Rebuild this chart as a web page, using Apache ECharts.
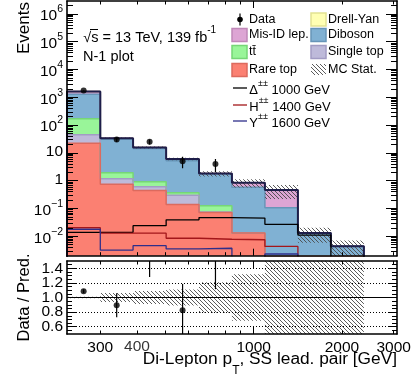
<!DOCTYPE html>
<html>
<head>
<meta charset="utf-8">
<script src="https://cdn.jsdelivr.net/npm/echarts@6/dist/echarts.min.js"></script>
<style>
  html, body { margin: 0; padding: 0; background: #fff; }
  #chart { width: 419px; height: 382px; }
</style>
</head>
<body>
<div id="chart"></div>
<script>
// Bin edges of the leading same-sign pair pT [GeV]; the last bin is empty
const binEdges = [231, 300, 388, 503, 651, 843, 1092, 1415, 1833, 2375, 3080];

// Background predictions per bin (stacked bottom to top)
const rareTop   = [22, 0.75, 0.44, 0.14, 0.072, 0.013, 0.001, 0.001, 0.001];
const singleTop = [23, 0.43, 0.17, 0.16, 0.003, 0, 0, 0, 0];
const ttbar     = [125, 0.76, 0.31, 0.07, 0.05, 0, 0, 0, 0];
const diboson   = [1110, 28.9, 13.5, 4.8, 1.6, 0.57, 0.106, 0.012, 0.0034];
const misId     = [340, 2.7, 1.2, 0.9, 0.07, 0.26, 0.353, 0, 0];
const drellYan  = [0, 0, 0, 0, 0, 0, 0, 0, 0];

// Relative MC statistical uncertainty per bin
const mcStatRel = [0.01, 0.06, 0.09, 0.11, 0.21, 0.32, 0.52, 0.55, 0.6];

// Observed events and their uncertainties
const dataCounts = [1760, 30, 25, 5, 4, 0, 0, 0, 0];
const dataErrors = [42, 5.5, 5, 2.2, 2, 0, 0, 0, 0];

// Signal benchmarks
const deltaPP = [0.0139, 0.0139, 0.024, 0.039, 0.047, 0.045, 0.027, 0.011, 0];
const hPP     = [0.0204, 0.013, 0.0129, 0.0085, 0.0078, 0.0075, 0.0043, 0, 0];
const yPP     = [0.0179, 0.0032, 0.0046, 0.0035, 0.0037, 0.0015, 0.0023, 0, 0];

// Axis labels
const xTickLabelsA = [300, 1000, 3000];
const xTickLabelsB = [2000];
const xTickLabelsC = [400];
const yDecades = [0.01, 0.1, 1, 10, 100, 1000, 1e4, 1e5, 1e6];
const ratioTicks = [0.6, 0.8, 1.0, 1.2, 1.4];
const ratioLabelsA = [0.6, 1.0, 1.4];
const ratioLabelsB = [0.8, 1.2];

const FONT = '"Liberation Sans", Arial, Helvetica, sans-serif';
const Y_MIN = 0.002, Y_MAX = 2.9e6;
const X_MIN = binEdges[0], X_MAX = binEdges[binEdges.length - 1];
const R_MIN = 0.5, R_MAX = 1.5;
const FLOOR = 1e-4; // below the visible range of the log axis
const nBins = dataCounts.length;

const layers = [
  { name: 'Rare top',    vals: rareTop,   fill: '#FB8072', edge: '#DC6A5E' },
  { name: 'Single top',  vals: singleTop, fill: '#BEBADA', edge: '#A29CC4' },
  { name: 'tt\u0304',    vals: ttbar,     fill: '#99F599', edge: '#76D676' },
  { name: 'Diboson',     vals: diboson,   fill: '#80B1D3', edge: '#6795B8' },
  { name: 'Mis-ID lep.', vals: misId,     fill: '#DDA5D4', edge: '#C088B8' },
  { name: 'Drell-Yan',   vals: drellYan,  fill: '#FFFFB3', edge: '#E2E292' }
];

// cumulative stack tops
let running = new Array(nBins).fill(0);
const cumTops = layers.map(l => {
  running = running.map((r, i) => r + l.vals[i]);
  return running.slice();
});
const total = cumTops[cumTops.length - 1];

function stepPoints(vals) {
  const pts = [[binEdges[0], FLOOR]];
  vals.forEach((v, i) => {
    const y = v > 0 ? v : FLOOR;
    pts.push([binEdges[i], y], [binEdges[i + 1], y]);
  });
  pts.push([binEdges[vals.length], FLOOR]);
  return pts;
}
const binCenter = i => Math.sqrt(binEdges[i] * binEdges[i + 1]);

// hatch used for the MC statistical band
function makeHatch() {
  const c = document.createElement('canvas');
  c.width = 4; c.height = 4;
  const g = c.getContext('2d');
  g.strokeStyle = '#4a4a4a';
  g.lineWidth = 0.9;
  g.beginPath();
  g.moveTo(0, 0); g.lineTo(4, 4);
  g.moveTo(-2, 2); g.lineTo(2, 6);
  g.moveTo(2, -2); g.lineTo(6, 2);
  g.stroke();
  return c;
}
const hatch = { image: makeHatch(), repeat: 'repeat' };

// ---- axes -------------------------------------------------------------
function minorLogValues(lo, hi) {
  const out = [];
  for (let k = -4; k <= 7; k++) {
    for (let m = 2; m <= 9; m++) {
      const v = m * Math.pow(10, k);
      if (v > lo && v < hi) out.push(v);
    }
  }
  return out;
}
const xMinor = [300, 400, 500, 600, 700, 800, 900, 2000, 3000];
const xMajor = [1000];
const yMinor = minorLogValues(Y_MIN, Y_MAX);
const rMinor = [];
for (let r = 0.55; r < 1.5; r += 0.05) {
  const v = Math.round(r * 100) / 100;
  if (ratioTicks.indexOf(v) < 0) rMinor.push(v);
}

function axisBase(grid, pos, kind, len, ticks, withLine) {
  const a = {
    gridIndex: grid, position: pos, z: 10,
    axisLine: { show: !!withLine, onZero: false, lineStyle: { color: '#000', width: 1.6 } },
    axisTick: { show: len > 0, inside: true, length: len, customValues: ticks, lineStyle: { color: '#000', width: 1 } },
    axisLabel: { show: false },
    splitLine: { show: false },
    minorTick: { show: false },
    minorSplitLine: { show: false }
  };
  if (kind === 'x') { a.type = 'log'; a.logBase = 10; a.min = X_MIN; a.max = X_MAX; }
  else if (kind === 'y') { a.type = 'log'; a.logBase = 10; a.min = Y_MIN; a.max = Y_MAX; }
  else { a.type = 'value'; a.min = R_MIN; a.max = R_MAX; }
  return a;
}
const labelStyle = { color: '#000', fontFamily: FONT, fontSize: 15.5, hideOverlap: false, showMinLabel: true, showMaxLabel: true };
const xLabel = vals => Object.assign({ show: true, customValues: vals, margin: 6, formatter: v => String(Math.round(v)) }, labelStyle);

const xAxes = [
  axisBase(0, 'bottom', 'x', 7, xMajor, true),   // 0
  axisBase(0, 'bottom', 'x', 3.5, xMinor),        // 1
  axisBase(0, 'top', 'x', 7, xMajor, true),       // 2
  axisBase(0, 'top', 'x', 3.5, xMinor),           // 3
  axisBase(1, 'bottom', 'x', 7, xMajor, true),    // 4
  axisBase(1, 'bottom', 'x', 3.5, xMinor),        // 5
  axisBase(1, 'top', 'x', 7, xMajor, true),       // 6
  axisBase(1, 'top', 'x', 3.5, xMinor)            // 7
];
xAxes[4].axisLabel = xLabel(xTickLabelsA);
xAxes[5].axisLabel = xLabel(xTickLabelsB);

const yAxes = [
  axisBase(0, 'left', 'y', 11, yDecades, true),   // 0
  axisBase(0, 'left', 'y', 6, yMinor),            // 1
  axisBase(0, 'right', 'y', 11, yDecades, true),  // 2
  axisBase(0, 'right', 'y', 6, yMinor),           // 3
  axisBase(1, 'left', 'r', 9, ratioTicks, true),  // 4
  axisBase(1, 'left', 'r', 5, rMinor),            // 5
  axisBase(1, 'right', 'r', 9, ratioTicks, true), // 6
  axisBase(1, 'right', 'r', 5, rMinor)            // 7
];
yAxes[0].axisLabel = Object.assign({
  show: true, customValues: yDecades, margin: 4,
  formatter: v => {
    const k = Math.round(Math.log10(v));
    if (k === 0) return '{b|1}';
    if (k === 1) return '{b|10}';
    return '{h| }{b|10}{s|' + (k < 0 ? '\u2212' + (-k) : k) + '}';
  },
  rich: {
    h: { fontSize: 1, lineHeight: 20 },
    b: { fontSize: 15.5, fontFamily: FONT, color: '#000', lineHeight: 14, verticalAlign: 'bottom' },
    s: { fontSize: 10.5, fontFamily: FONT, color: '#000', lineHeight: 14, verticalAlign: 'top' }
  }
}, labelStyle);
yAxes[4].axisLabel = Object.assign({ show: true, customValues: ratioLabelsA, margin: 4, formatter: v => v.toFixed(1) }, labelStyle);
yAxes[5].axisLabel = Object.assign({ show: true, customValues: ratioLabelsB, margin: 4, formatter: v => v.toFixed(1) }, labelStyle);

// ---- series -----------------------------------------------------------
const series = [];

// stacked backgrounds, painted from the full stack down to the lowest layer
for (let k = layers.length - 1; k >= 0; k--) {
  series.push({
    name: layers[k].name, type: 'line', xAxisIndex: 0, yAxisIndex: 0,
    data: stepPoints(cumTops[k]), symbol: 'none', clip: true, z: 2,
    lineStyle: { color: layers[k].edge, width: 1.5 },
    areaStyle: { color: layers[k].fill, opacity: 1, origin: 'start' },
    silent: true, animation: false
  });
}

function bandRender(params, api) {
  const a = api.coord([api.value(0), api.value(3)]);
  const b = api.coord([api.value(1), api.value(2)]);
  const cs = params.coordSys;
  const rect = echarts.graphic.clipRectByRect(
    { x: a[0], y: a[1], width: b[0] - a[0], height: b[1] - a[1] },
    { x: cs.x, y: cs.y, width: cs.width, height: cs.height }
  );
  return rect && { type: 'rect', shape: rect, style: { fill: hatch, stroke: null } };
}

// MC statistical uncertainty on the total prediction
series.push({
  name: 'MC Stat.', type: 'custom', xAxisIndex: 0, yAxisIndex: 0, z: 3,
  renderItem: bandRender, silent: true, animation: false,
  data: total.map((t, i) => [binEdges[i], binEdges[i + 1], t * (1 - mcStatRel[i]), t * (1 + mcStatRel[i])])
});

// total prediction outline
series.push({
  name: 'Total', type: 'line', xAxisIndex: 0, yAxisIndex: 0, z: 4,
  data: stepPoints(total), symbol: 'none', clip: true, silent: true, animation: false,
  lineStyle: { color: '#1E1E4A', width: 2 }
});

// signals
[[deltaPP, '#000000', 'Δ'], [hPP, '#A3161A', 'H'], [yPP, '#2E2E8A', 'Y']].forEach(s => {
  series.push({
    name: s[2], type: 'line', xAxisIndex: 0, yAxisIndex: 0, z: 5,
    data: stepPoints(s[0]), symbol: 'none', clip: true, silent: true, animation: false,
    lineStyle: { color: s[1], width: 1.3 }
  });
});

function errRender(params, api) {
  const x = api.value(0);
  const p1 = api.coord([x, api.value(1)]);
  const p2 = api.coord([x, api.value(2)]);
  return { type: 'line', shape: { x1: p1[0], y1: p1[1], x2: p2[0], y2: p2[1] },
           style: { stroke: '#000', lineWidth: 1.2 } };
}

const seen = dataCounts.map((d, i) => i).filter(i => dataCounts[i] > 0);

// data with uncertainties
series.push({
  name: 'Data err', type: 'custom', xAxisIndex: 0, yAxisIndex: 0, z: 6, clip: true,
  renderItem: errRender, silent: true, animation: false,
  data: seen.map(i => [binCenter(i), Math.max(dataCounts[i] - dataErrors[i], FLOOR), dataCounts[i] + dataErrors[i]])
});
series.push({
  name: 'Data', type: 'scatter', xAxisIndex: 0, yAxisIndex: 0, z: 7,
  symbol: 'circle', symbolSize: 6, itemStyle: { color: '#000' }, silent: true, animation: false,
  data: seen.map(i => [binCenter(i), dataCounts[i]])
});

// ratio panel
series.push({
  name: 'MC Stat. ratio', type: 'custom', xAxisIndex: 4, yAxisIndex: 4, z: 3,
  renderItem: bandRender, silent: true, animation: false,
  data: total.map((t, i) => [binEdges[i], binEdges[i + 1], 1 - mcStatRel[i], 1 + mcStatRel[i]])
});
series.push({
  name: 'Ratio err', type: 'custom', xAxisIndex: 4, yAxisIndex: 4, z: 6, clip: true,
  renderItem: errRender, silent: true, animation: false,
  data: seen.map(i => [binCenter(i), (dataCounts[i] - dataErrors[i]) / total[i], (dataCounts[i] + dataErrors[i]) / total[i]])
});
series.push({
  name: 'Ratio', type: 'scatter', xAxisIndex: 4, yAxisIndex: 4, z: 7, clip: true,
  symbol: 'circle', symbolSize: 6, itemStyle: { color: '#000' }, silent: true, animation: false,
  data: seen.map(i => [binCenter(i), dataCounts[i] / total[i]]),
  markLine: {
    silent: true, symbol: 'none', label: { show: false }, animation: false,
    data: ratioTicks.map(v => ({
      yAxis: v,
      lineStyle: v === 1 ? { color: '#000', width: 1, type: 'solid' } : { color: '#000', width: 1, type: [1, 2] }
    }))
  }
});

// tick label for 400 GeV, anchored on the ratio panel's x scale
series.push({
  name: 'x label 400', type: 'scatter', xAxisIndex: 4, yAxisIndex: 4, z: 20, clip: false,
  symbol: 'rect', symbolSize: 0.01, itemStyle: { color: 'rgba(0,0,0,0)' }, silent: true, animation: false,
  data: xTickLabelsC.map(v => [v, R_MIN]),
  label: {
    show: true, position: 'bottom', distance: 5,
    formatter: p => String(p.value[0]),
    color: '#000', fontFamily: FONT, fontSize: 15.5
  },
  labelLayout: { hideOverlap: false }
});

// ---- text and legend --------------------------------------------------
const graphics = [];
const txt = (x, y, text, opt) => graphics.push(Object.assign({
  type: 'text', x, y, z: 20, silent: true,
  style: Object.assign({ text, fill: '#000', font: '15px ' + FONT, textVerticalAlign: 'middle', verticalAlign: 'middle' }, opt || {})
}));

txt(24, 2, 'Events', { font: '17px ' + FONT, align: 'right' });
graphics[graphics.length - 1].rotation = Math.PI / 2;
txt(24, 297.5, 'Data / Pred.', { font: '16.5px ' + FONT, align: 'center' });
graphics[graphics.length - 1].rotation = Math.PI / 2;

graphics.push({
  type: 'text', x: 397, y: 364, z: 20, silent: true,
  style: {
    text: '{h| }{a|Di-Lepton p}{t|T}{a|, SS lead. pair [GeV]}',
    align: 'right', verticalAlign: 'middle',
    rich: {
      h: { fontSize: 1, lineHeight: 26 },
      a: { fontSize: 17.3, fontFamily: FONT, fill: '#000', lineHeight: 18, verticalAlign: 'top' },
      t: { fontSize: 12, fontFamily: FONT, fill: '#000', lineHeight: 13, verticalAlign: 'bottom' }
    }
  }
});

graphics.push({
  type: 'text', x: 83, y: 35, z: 20, silent: true,
  style: {
    text: '{h| }{a|\u221As = 13 TeV, 139 fb}{s|-1}',
    verticalAlign: 'middle',
    rich: {
      h: { fontSize: 1, lineHeight: 20 },
      a: { fontSize: 14.5, fontFamily: FONT, fill: '#000', lineHeight: 15, verticalAlign: 'bottom' },
      s: { fontSize: 10, fontFamily: FONT, fill: '#000', lineHeight: 12, verticalAlign: 'top' }
    }
  }
});
graphics.push({ type: 'line', z: 20, silent: true, shape: { x1: 90, y1: 29.5, x2: 98, y2: 29.5 }, style: { stroke: '#000', lineWidth: 1 } });
txt(83, 57, 'N-1 plot', { font: '14.5px ' + FONT });

// legend
const rows = [19.5, 35, 52, 70, 88, 105, 121];
const col1 = 232, col2 = 311, boxW = 15, boxH = 13, legFont = '12.5px ' + FONT;
const box = (x, y, fill, stroke) => graphics.push({
  type: 'rect', z: 20, silent: true,
  shape: { x, y: y - boxH / 2, width: boxW, height: boxH },
  style: { fill, stroke, lineWidth: 1.5 }
});
const byName = n => layers.find(l => l.name === n);

// Data marker
graphics.push({ type: 'line', z: 20, silent: true, shape: { x1: col1 + 8, y1: rows[0] - 6, x2: col1 + 8, y2: rows[0] + 6 }, style: { stroke: '#000', lineWidth: 1.2 } });
graphics.push({ type: 'circle', z: 21, silent: true, shape: { cx: col1 + 8, cy: rows[0], r: 2.8 }, style: { fill: '#000' } });
txt(col1 + 17, rows[0], 'Data', { font: legFont });

['Drell-Yan', 'Diboson', 'Single top'].forEach((n, r) => {
  const l = byName(n);
  box(col2, rows[r], l.fill, l.edge);
  txt(col2 + 17, rows[r], n, { font: legFont });
});
['Mis-ID lep.', 'tt\u0304', 'Rare top'].forEach((n, r) => {
  const l = byName(n);
  box(col1, rows[r + 1], l.fill, l.edge);
  txt(col1 + 17, rows[r + 1], n, { font: legFont });
});
graphics.push({
  type: 'rect', z: 20, silent: true,
  shape: { x: col2, y: rows[3] - 6, width: boxW, height: 11 },
  style: { fill: hatch }
});
txt(col2 + 17, rows[3], 'MC Stat.', { font: legFont });

[['Δ', '1000', '#000000'], ['H', '1400', '#A3161A'], ['Y', '1600', '#2E2E8A']].forEach((s, r) => {
  const y = rows[4 + r];
  graphics.push({ type: 'line', z: 20, silent: true, shape: { x1: col1 + 1, y1: y, x2: col1 + 15, y2: y }, style: { stroke: s[2], lineWidth: 1.3 } });
  graphics.push({
    type: 'text', x: col1 + 17, y, z: 20, silent: true,
    style: {
      text: '{h| }{a|' + s[0] + '}{s|\u00B1\u00B1}{a| ' + s[1] + ' GeV}',
      verticalAlign: 'middle',
      rich: {
        h: { fontSize: 1, lineHeight: 18 },
        a: { fontSize: 13, fontFamily: FONT, fill: '#000', lineHeight: 14, verticalAlign: 'bottom' },
        s: { fontSize: 9, fontFamily: FONT, fill: '#000', lineHeight: 11, verticalAlign: 'top' }
      }
    }
  });
});

const chart = echarts.init(document.getElementById('chart'), null, { renderer: 'canvas', width: 419, height: 382 });
chart.setOption({
  animation: false,
  backgroundColor: '#fff',
  textStyle: { fontFamily: FONT },
  grid: [
    { left: 67, top: 1, width: 330, height: 254.7, show: false },
    { left: 67, top: 261, width: 330, height: 73, show: false }
  ],
  xAxis: xAxes,
  yAxis: yAxes,
  series,
  graphic: graphics
});
</script>
</body>
</html>
